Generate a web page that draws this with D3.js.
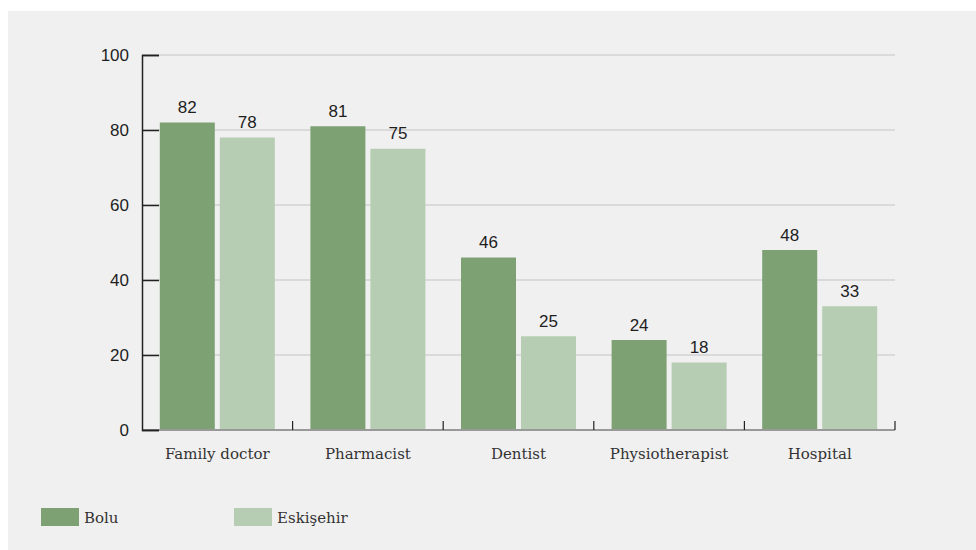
<!DOCTYPE html>
<html lang="en">
<head>
  <meta charset="UTF-8">
  <title>Health services by city</title>
  <script src="https://d3js.org/d3.v7.min.js"></script>
  <style>
    body { margin: 0; background: #fff; }
  </style>
</head>
<body>
  <svg id="chart" width="976" height="550"></svg>

  <script>
    // data
    const categories = ['Family doctor', 'Pharmacist', 'Dentist', 'Physiotherapist', 'Hospital'];
    const seriesNames = ['Bolu', 'Eskişehir'];
    const bolu = [82, 81, 46, 24, 48];
    const eskisehir = [78, 75, 25, 18, 33];
    const yTicks = [0, 20, 40, 60, 80, 100];

    const colors = ['#7ea174', '#b7cdb3'];
    const series = [bolu, eskisehir];

    const svg = d3.select('#chart');

    // panel background
    svg.append('rect')
      .attr('x', 8).attr('y', 11)
      .attr('width', 968).attr('height', 539)
      .attr('fill', '#f0f0f0');

    const plotL = 142, plotR = 895, plotT = 55, plotB = 430;

    const x = d3.scaleBand()
      .domain(categories)
      .range([plotL, plotR]);

    const y = d3.scaleLinear()
      .domain([0, 100])
      .range([plotB, plotT]);

    // gridlines
    svg.append('g')
      .selectAll('line')
      .data(yTicks.filter(d => d > 0))
      .enter().append('line')
      .attr('x1', plotL).attr('x2', plotR)
      .attr('y1', d => y(d)).attr('y2', d => y(d))
      .attr('stroke', '#c4c4c4')
      .attr('stroke-width', 1);

    // bars
    const barW = 55, gap = 5;
    const pad = (x.bandwidth() - 2 * barW - gap) / 2;

    series.forEach((vals, si) => {
      const g = svg.append('g');
      g.selectAll('rect')
        .data(vals)
        .enter().append('rect')
        .attr('x', (d, i) => x(categories[i]) + pad + si * (barW + gap))
        .attr('y', d => y(d))
        .attr('width', barW)
        .attr('height', d => plotB - y(d))
        .attr('fill', colors[si]);

      g.selectAll('text')
        .data(vals)
        .enter().append('text')
        .attr('x', (d, i) => x(categories[i]) + pad + si * (barW + gap) + barW / 2)
        .attr('y', d => y(d) - 9.5)
        .attr('text-anchor', 'middle')
        .attr('font-family', 'Liberation Sans, Arial, sans-serif')
        .attr('font-size', 17)
        .attr('fill', '#1e1e1e')
        .text(d => d);
    });

    // x baseline
    svg.append('line')
      .attr('x1', plotL).attr('x2', plotR)
      .attr('y1', plotB).attr('y2', plotB)
      .attr('stroke', '#999')
      .attr('stroke-width', 2);

    // x tick marks at band boundaries
    svg.append('g')
      .selectAll('line')
      .data(categories.slice(1).map(c => x(c)).concat([plotR]))
      .enter().append('line')
      .attr('x1', d => d).attr('x2', d => d)
      .attr('y1', plotB - 9).attr('y2', plotB)
      .attr('stroke', '#222')
      .attr('stroke-width', 1.2);

    // category labels
    svg.append('g')
      .selectAll('text')
      .data(categories)
      .enter().append('text')
      .attr('x', d => x(d) + x.bandwidth() / 2)
      .attr('y', plotB + 29)
      .attr('text-anchor', 'middle')
      .attr('font-family', 'DejaVu Serif, serif')
      .attr('font-size', 15)
      .attr('fill', '#333')
      .text(d => d);

    // y axis
    const yAxis = d3.axisLeft(y)
      .tickValues(yTicks)
      .tickSize(-17)
      .tickPadding(13);

    const ya = svg.append('g')
      .attr('transform', `translate(${plotL},0)`)
      .call(yAxis);

    ya.select('.domain')
      .attr('stroke', '#222')
      .attr('stroke-width', 1.5);
    ya.selectAll('.tick line')
      .attr('stroke', '#222')
      .attr('stroke-width', 1.5);
    ya.selectAll('.tick text')
      .attr('font-family', 'Liberation Sans, Arial, sans-serif')
      .attr('font-size', 17)
      .attr('fill', '#1e1e1e');

    // legend
    const legendX = [41, 234];
    const lg = svg.append('g');
    seriesNames.forEach((name, i) => {
      lg.append('rect')
        .attr('x', legendX[i]).attr('y', 508)
        .attr('width', 38).attr('height', 18)
        .attr('fill', colors[i]);
      lg.append('text')
        .attr('x', legendX[i] + 43)
        .attr('y', 523)
        .attr('font-family', 'DejaVu Serif, serif')
        .attr('font-size', 15)
        .attr('fill', '#333')
        .text(name);
    });
  </script>
</body>
</html>
